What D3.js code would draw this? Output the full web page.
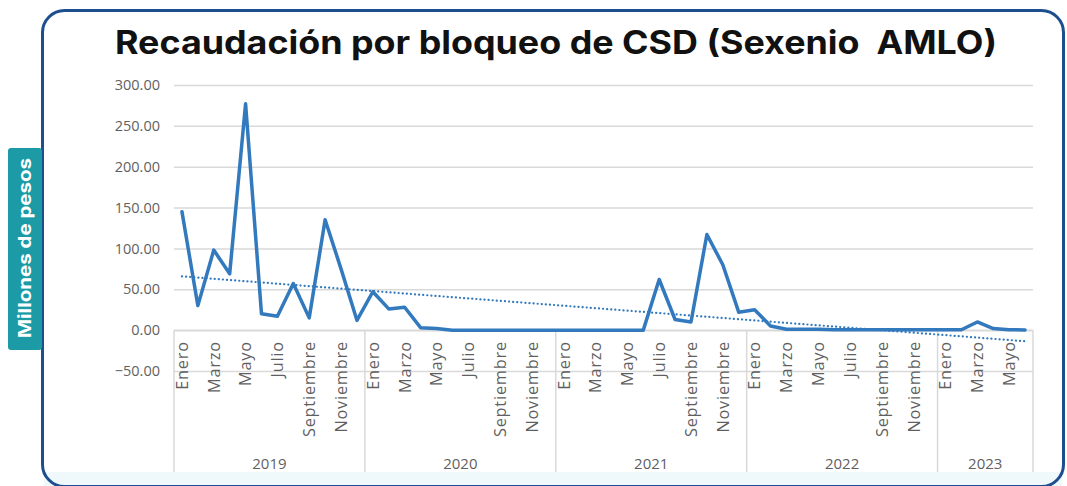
<!DOCTYPE html>
<html>
<head>
<meta charset="utf-8">
<script src="https://cdn.jsdelivr.net/npm/d3@7/dist/d3.min.js"></script>
<style>
  html, body { margin: 0; padding: 0; background: #ffffff; }
  svg { display: block; }
</style>
</head>
<body>
<svg id="chart" width="1067" height="486"></svg>
<script>
// ---------- DATA ----------
const title = "Recaudación por bloqueo de CSD (Sexenio  AMLO)";
const yAxisTitle = "Millones de pesos";
const monthNames = ["Enero","Febrero","Marzo","Abril","Mayo","Junio","Julio","Agosto","Septiembre","Octubre","Noviembre","Diciembre"];
const years = ["2019","2020","2021","2022","2023"];
const monthsPerYear = [12, 12, 12, 12, 6];
const yTicks = [-50, 0, 50, 100, 150, 200, 250, 300];
const values2019 = [145, 30, 98, 69, 277, 20, 17, 57, 15, 135, 75, 12];
const values2020 = [47, 26, 28, 3, 2, 0, 0, 0, 0, 0, 0, 0];
const values2021 = [0, 0, 0, 0, 0, 0, 62, 13, 10, 117, 80, 22];
const values2022 = [25, 5, 1, 1, 1, 0.5, 0.5, 0.5, 0.5, 0.5, 0.5, 0.5];
const values2023 = [0.5, 0.5, 10, 2, 0.5, 0.3];

// ---------- BUILD TABLE ----------
const seriesByYear = [values2019, values2020, values2021, values2022, values2023];
const rows = [];
years.forEach((yr, yi) => {
  for (let m = 0; m < monthsPerYear[yi]; m++) {
    rows.push({ i: rows.length, year: yr, month: monthNames[m], m: m, value: seriesByYear[yi][m] });
  }
});

// ---------- LAYOUT ----------
const svg = d3.select("#chart");
const plot = { left: 174, right: 1033, top: 85, bottom: 371 };
const catBottom = 472;

const x = d3.scaleBand().domain(rows.map(d => d.i)).range([plot.left, plot.right]).padding(0);
const y = d3.scaleLinear().domain([-50, 300]).range([plot.bottom, plot.top]);
const xc = i => x(i) + x.bandwidth() / 2;

// light bottom band
svg.append("rect").attr("x", 44).attr("y", catBottom).attr("width", 1018).attr("height", 14)
  .attr("fill", "#eff9fc");

// frame
svg.append("rect").attr("x", 42.5).attr("y", 10.5).attr("width", 1021).attr("height", 476)
  .attr("rx", 22).attr("ry", 22)
  .attr("fill", "none").attr("stroke", "#1d4f8e").attr("stroke-width", 3);

// Y axis label box
svg.append("rect").attr("x", 8).attr("y", 148).attr("width", 34).attr("height", 202)
  .attr("rx", 3).attr("fill", "#1c9ba6");
svg.append("text")
  .attr("transform", "translate(25,248) rotate(-90)")
  .attr("text-anchor", "middle").attr("dy", "0.36em")
  .attr("font-family", "Inter, 'Open Sans', sans-serif").attr("font-weight", 700)
  .attr("font-size", 17.5).attr("fill", "#ffffff")
  .attr("textLength", 180).attr("lengthAdjust", "spacingAndGlyphs")
  .text(yAxisTitle);

// Title
svg.append("text")
  .attr("x", 556).attr("y", 54)
  .attr("text-anchor", "middle")
  .attr("xml:space", "preserve")
  .style("white-space", "pre")
  .attr("font-family", "Inter, 'Open Sans', sans-serif").attr("font-weight", 700)
  .attr("font-size", 32).attr("fill", "#111111")
  .attr("textLength", 882).attr("lengthAdjust", "spacingAndGlyphs")
  .text(title);

// gridlines
const yAxis = d3.axisLeft(y).tickValues(yTicks).tickFormat(d3.format(".2f"))
  .tickSize(-(plot.right - plot.left)).tickPadding(14);
const gy = svg.append("g").attr("transform", `translate(${plot.left},0)`).call(yAxis);
gy.select(".domain").remove();
gy.selectAll(".tick line").attr("stroke", "#d9d9d9").attr("stroke-width", 1.5);
gy.selectAll(".tick text")
  .attr("font-family", "'Open Sans', sans-serif").attr("font-size", 14.5)
  .attr("fill", "#5f5f5f");

// category table: separators
const yZero = y(0);
const boundaries = [plot.left];
let acc = 0;
monthsPerYear.forEach(n => { acc += n; boundaries.push(x(acc - 1) + x.bandwidth()); });
svg.append("g").selectAll("line").data(boundaries).join("line")
  .attr("x1", d => d).attr("x2", d => d)
  .attr("y1", yZero).attr("y2", catBottom)
  .attr("stroke", "#d9d9d9").attr("stroke-width", 1.5);
svg.append("line").attr("x1", plot.left).attr("x2", plot.right)
  .attr("y1", yZero).attr("y2", yZero)
  .attr("stroke", "#d9d9d9").attr("stroke-width", 1.5);

// month labels (every other month)
svg.append("g").selectAll("text").data(rows.filter(d => d.m % 2 === 0)).join("text")
  .attr("transform", d => `translate(${xc(d.i)},${yZero + 11}) rotate(-90)`)
  .attr("text-anchor", "end").attr("dy", "0.36em")
  .attr("font-family", "'Open Sans', sans-serif").attr("font-size", 16.3)
  .attr("letter-spacing", 0.8)
  .attr("fill", "#5f5f5f")
  .text(d => d.month);

// year labels
svg.append("g").selectAll("text").data(years).join("text")
  .attr("x", (d, i) => (boundaries[i] + boundaries[i + 1]) / 2)
  .attr("y", 469)
  .attr("text-anchor", "middle")
  .attr("font-family", "'Open Sans', sans-serif").attr("font-size", 15)
  .attr("fill", "#5f5f5f")
  .text(d => d);

// main line
const line = d3.line().x(d => xc(d.i)).y(d => y(d.value)).curve(d3.curveLinear);
svg.append("path").datum(rows)
  .attr("d", line).attr("fill", "none")
  .attr("stroke", "#3279bd").attr("stroke-width", 3.5)
  .attr("stroke-linejoin", "round").attr("stroke-linecap", "round");

// linear trend line (least squares from the data)
const n = rows.length;
const mx = d3.mean(rows, d => d.i), my = d3.mean(rows, d => d.value);
const slope = d3.sum(rows, d => (d.i - mx) * (d.value - my)) / d3.sum(rows, d => (d.i - mx) ** 2);
const intercept = my - slope * mx;
const trend = [rows[0], rows[n - 1]].map(d => ({ i: d.i, value: intercept + slope * d.i }));
svg.append("path").datum(trend)
  .attr("d", line).attr("fill", "none")
  .attr("stroke", "#3279bd").attr("stroke-width", 2.2)
  .attr("stroke-dasharray", "0.1,4").attr("stroke-linecap", "round");
</script>
</body>
</html>
